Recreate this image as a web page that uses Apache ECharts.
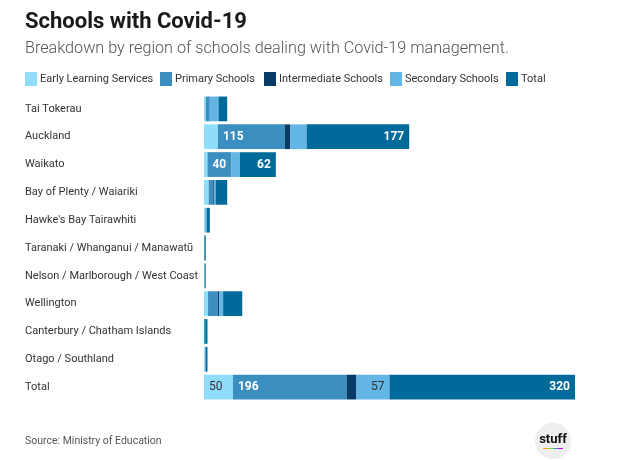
<!DOCTYPE html>
<html><head><meta charset="utf-8">
<script src="https://cdn.jsdelivr.net/npm/echarts@6/dist/echarts.min.js"></script>
<style>html,body{margin:0;padding:0;background:#fff}#c{width:641px;height:460px}</style>
</head><body><div id="c"></div>
<script>
const regions = ["Tai Tokerau","Auckland","Waikato","Bay of Plenty / Waiariki","Hawke's Bay Tairawhiti","Taranaki / Whanganui / Manawatū","Nelson / Marlborough / West Coast","Wellington","Canterbury / Chatham Islands","Otago / Southland","Total"];
const seriesNames = ["Early Learning Services","Primary Schools","Intermediate Schools","Secondary Schools","Total"];
const earlyLearning = [3, 24, 6, 8, 2, 0, 1, 7, 0, 2, 50];
const primary      = [7, 115, 40, 7, 1, 1, 0, 17, 2, 1, 196];
const intermediate = [0, 10, 1, 2, 0, 0, 0, 2, 1, 0, 17];
const secondary    = [15, 28, 15, 3, 2, 0, 0, 7, 0, 0, 57];
const total        = [15, 177, 62, 20, 5, 2, 2, 33, 3, 3, 320];
const colors = ["#8fdcfb","#3a8fc0","#073c66","#62b5e5","#006a9a"];
const values = [earlyLearning, primary, intermediate, secondary, total];
const labelCfg = [
  {position:'insideLeft', color:'#333', fontWeight:'normal'},
  {position:'insideLeft', color:'#fff', fontWeight:'bold'},
  {position:'insideLeft', color:'#fff', fontWeight:'bold'},
  {position:'insideRight', color:'#333', fontWeight:'normal'},
  {position:'insideRight', color:'#fff', fontWeight:'bold'}
];
const FONT = 'Roboto, "Noto Sans", sans-serif';
const legendX = [25, 160, 264, 390, 506];
const legendGraphics = [];
seriesNames.forEach((n,i)=>{
  legendGraphics.push({type:'rect', shape:{x:legendX[i], y:72, width:12, height:14}, style:{fill:colors[i]}});
  legendGraphics.push({type:'text', x:legendX[i]+15, y:79,
    style:{x:0, y:0, text:n, verticalAlign:'middle', font:'11px '+FONT, fill:'#333'}});
});
const chart = echarts.init(document.getElementById('c'), null, {renderer:'canvas'});
chart.setOption({
  animation:false,
  textStyle:{fontFamily:FONT},
  grid:{left:204, right:66, top:95, bottom:59, containLabel:false},
  xAxis:{type:'value', min:0, max:640, show:false},
  yAxis:{type:'category', data:regions, inverse:true,
    axisLine:{show:false}, axisTick:{show:false},
    axisLabel:{align:'left', margin:179, fontSize:11, color:'#333'}},
  series: seriesNames.map((n,i)=>({
    name:n, type:'bar', stack:'s', barCategoryGap:'11%',
    data: values[i],
    itemStyle:{color:colors[i]},
    label:{show:true, position:labelCfg[i].position, color:labelCfg[i].color, fontWeight:labelCfg[i].fontWeight,
      fontSize:12, formatter:p=> p.value>=40 ? String(p.value) : ''}
  })),
  graphic:[
    {type:'text', x:25, y:22, style:{x:0, y:0, text:'Schools with Covid-19', verticalAlign:'middle', font:'bold 22px '+FONT, fill:'#1a1a1a'}},
    {type:'text', x:25, y:49, style:{x:0, y:0, text:'Breakdown by region of schools dealing with Covid-19 management.', verticalAlign:'middle', font:'300 16.2px '+FONT, fill:'#555'}},
    {type:'text', x:25, y:441, style:{x:0, y:0, text:'Source: Ministry of Education', verticalAlign:'middle', font:'10.5px '+FONT, fill:'#555'}},
    ...legendGraphics,
    {type:'circle', shape:{cx:553, cy:441, r:18}, style:{fill:'#eeeeee'}},
    {type:'text', style:{x:553, y:440, text:'stuff', align:'center', verticalAlign:'middle', font:'bold 13px '+FONT, fill:'#111'}},
    {type:'rect', shape:{x:543, y:448, width:5, height:1}, style:{fill:'#f5a623'}},
    {type:'rect', shape:{x:548, y:448, width:5, height:1}, style:{fill:'#7ed321'}},
    {type:'rect', shape:{x:553, y:448, width:5, height:1}, style:{fill:'#4a90e2'}},
    {type:'rect', shape:{x:558, y:448, width:5, height:1}, style:{fill:'#bd10e0'}}
  ]
});
</script></body></html>
